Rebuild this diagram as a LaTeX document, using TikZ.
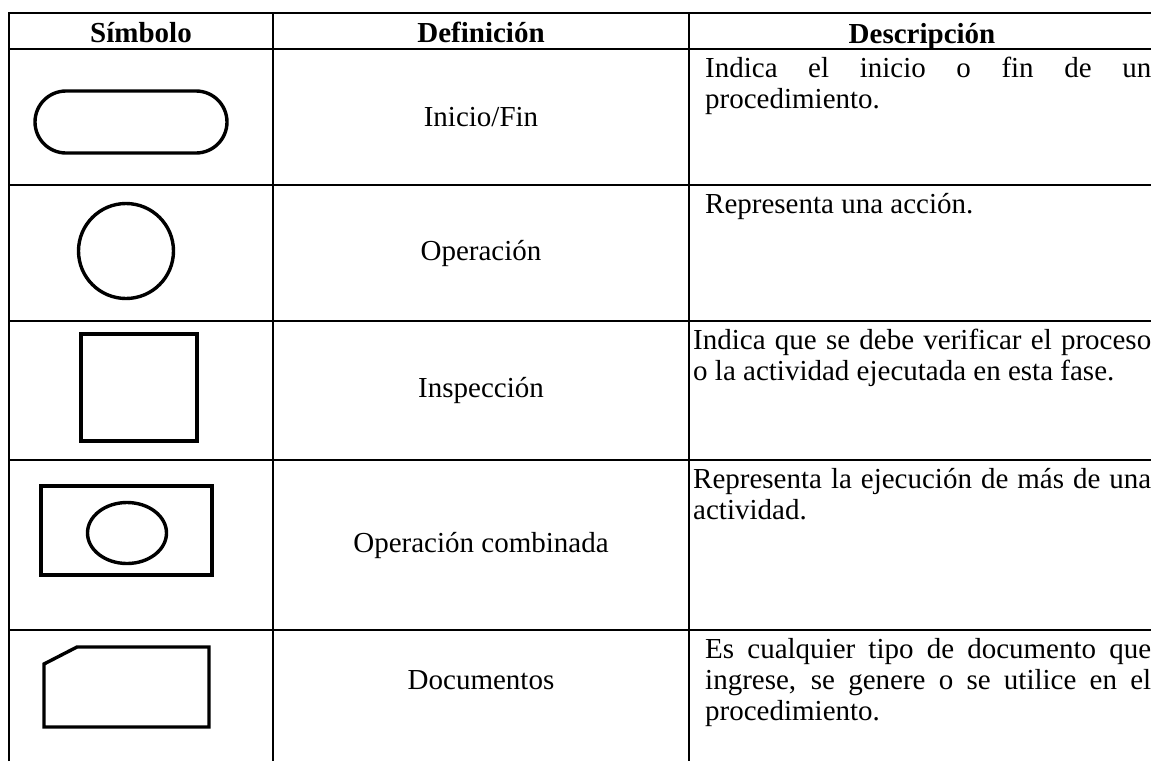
\documentclass[tikz,border=0pt]{standalone}
\usepackage{fontspec}
\setmainfont{Liberation Serif}
\usetikzlibrary{shapes.geometric,shapes.misc}

\begin{document}
\begin{tikzpicture}
	[x=1pt,y=-1pt,
		rule/.style={line width=1.4pt},
		symb/.style={draw,line width=3.4pt,inner sep=0pt},
		head/.style={inner sep=0pt,anchor=base,font=\fontsize{29}{33}\selectfont\bfseries},
		defn/.style={inner sep=0pt,font=\fontsize{29}{31}\selectfont}]
		\tikzstyle{desc}=[inner sep=0pt,anchor=base west,align=justify,
			font=\fontsize{29}{31}\selectfont]

	\useasboundingbox (0,0) rectangle (1151,761);

	% table rules
	\draw[rule] (9,761) -- (9,13) -- (1151,13);
	\draw[rule] (273,13) -- (273,761);
	\draw[rule] (689,13) -- (689,761);
	\foreach \y in {49,185,321,460,630}
		\draw[rule] (9,\y) -- (1151,\y);

	% header
	\node (hsim) at (141,42) [head] {Símbolo};
	\node (hdef) at (481,42) [head] {Definición};
	\node (hdes) at (922,43) [head] {Descripción};

	% symbols
	\node (inifin) at (131,122) [symb,rounded rectangle,minimum width=192pt,minimum height=62pt] {};
	\node (oper) at (126,251) [symb,circle,minimum size=95pt] {};
	\node (insp) at (139,387.5) [symb,rectangle,minimum width=116pt,minimum height=107pt] {};
	\node (comb) at (126.5,530.5) [symb,rectangle,minimum width=171pt,minimum height=89pt] {};
	\node (combin) at (127,533) [symb,ellipse,minimum width=79pt,minimum height=61pt] {};
	\draw[line width=3.4pt] (44,664) -- (77,647) -- (209,647) -- (209,727) -- (44,727) -- cycle;
%	\node (docu) at (126,687) [symb,minimum width=165pt,minimum height=80pt] {};

	% definitions
	\node (dinifin) at (481,117) [defn] {Inicio/Fin};
	\node (doper) at (481,253) [defn] {Operación};
	\node (dinsp) at (481,390) [defn] {Inspección};
	\node (dcomb) at (481,545) [defn] {Operación combinada};
	\node (ddocu) at (481,689) [defn,anchor=base] {Documentos};

	% descriptions
	\node (tinifin) at (705,77) [desc,text width=446pt]
		{Indica el inicio o fin de un\linebreak procedimiento.};
	\node (toper) at (705,213) [desc,text width=446pt] {Representa una acción.};
	\node (tinsp) at (693,349) [desc,text width=458pt]
		{Indica que se debe verificar el proceso\linebreak o la actividad ejecutada en esta fase.};
	\node (tcomb) at (693,488) [desc,text width=458pt]
		{Representa la ejecución de más de una\linebreak actividad.};
	\node (tdocu) at (705,658) [desc,text width=446pt]
		{Es cualquier tipo de documento que\linebreak ingrese, se genere o se utilice en el\linebreak procedimiento.};

\end{tikzpicture}
\end{document}
